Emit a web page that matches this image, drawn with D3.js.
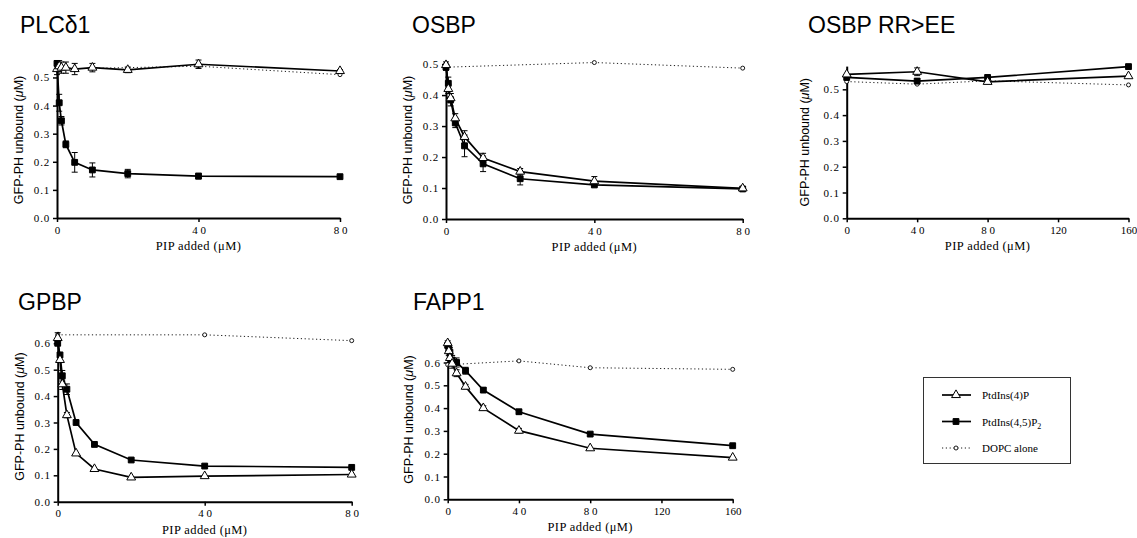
<!DOCTYPE html>
<html>
<head>
<meta charset="utf-8">
<script src="https://cdn.jsdelivr.net/npm/d3@7"></script>
<style>
  body { margin: 0; background: #fff; }
  svg { display: block; }
  .tick text { font-family: "Liberation Serif", "Times New Roman", serif; font-size: 11px; letter-spacing: 0.8px; fill: #000; }
  .xax .tick text { letter-spacing: 0; }
</style>
</head>
<body>
<svg id="chart" width="1137" height="538"></svg>
<script>
// ---- data ----
var titles = ["PLC\u03b41", "OSBP", "OSBP RR>EE", "GPBP", "FAPP1"];
var seriesNames = ["PtdIns(4)P", "PtdIns(4,5)P", "DOPC alone"];

var x80 = [0, 0.625, 1.25, 2.5, 5, 10, 20, 40, 80];
var x160 = [0, 0.625, 1.25, 2.5, 5, 10, 20, 40, 80, 160];
var xDopc80 = [0, 40, 80];
var xSparse160 = [0, 40, 80, 160];

var xTicks80 = [0, 40, 80];
var xTickLabels80 = ["0", "4 0", "8 0"];
var xTicks160 = [0, 40, 80, 120, 160];
var xTickLabels160 = ["0", "4 0", "8 0", "120", "160"];
var yTicks05 = [0, 0.1, 0.2, 0.3, 0.4, 0.5];
var yTicks06 = [0, 0.1, 0.2, 0.3, 0.4, 0.5, 0.6];

// PLCd1
var plcPI4P = [0.53, 0.54, 0.535, 0.535, 0.53, 0.535, 0.527, 0.547, 0.523];
var plcPI4PErr = [0.02, 0.02, 0.02, 0.02, 0.02, 0.015, 0.01, 0.015, 0.005];
var plcPIP2 = [0.55, 0.41, 0.346, 0.262, 0.198, 0.171, 0.158, 0.149, 0.147];
var plcPIP2Err = [0.01, 0.03, 0.015, 0.012, 0.035, 0.025, 0.015, 0.01, 0];
var plcDopc = [0.53, 0.54, 0.51];

// OSBP
var osbpPI4P = [0.497, 0.42, 0.39, 0.325, 0.265, 0.197, 0.153, 0.122, 0.099];
var osbpPI4PErr = [0.01, 0.015, 0.015, 0.015, 0.02, 0.015, 0.01, 0.015, 0];
var osbpPIP2 = [0.49, 0.438, 0.385, 0.31, 0.236, 0.178, 0.13, 0.11, 0.097];
var osbpPIP2Err = [0.01, 0.02, 0.02, 0.015, 0.035, 0.025, 0.02, 0, 0];
var osbpDopc = [0.49, 0.505, 0.487];

// OSBP RR>EE
var rrPI4P = [0.558, 0.568, 0.529, 0.551];
var rrPI4PErr = [0, 0.015, 0, 0];
var rrPIP2 = [0.546, 0.532, 0.546, 0.588];
var rrPIP2Err = [0, 0.01, 0, 0];
var rrDopc = [0.53, 0.52, 0.533, 0.517];

// GPBP
var gpbpPI4P = [0.62, 0.537, 0.445, 0.328, 0.183, 0.124, 0.092, 0.097, 0.103];
var gpbpPI4PErr = [0.02, 0.01, 0.02, 0.01, 0, 0, 0, 0, 0];
var gpbpPIP2 = [0.6, 0.556, 0.477, 0.426, 0.30, 0.217, 0.158, 0.135, 0.13];
var gpbpPIP2Err = [0, 0, 0.02, 0.02, 0, 0, 0, 0, 0];
var gpbpDopc = [0.632, 0.632, 0.61];

// FAPP1
var fappPI4P = [0.685, 0.65, 0.62, 0.595, 0.553, 0.494, 0.4, 0.301, 0.224, 0.183];
var fappPI4PErr = [0.01, 0.02, 0.02, 0.02, 0.015, 0.01, 0.01, 0.01, 0, 0];
var fappPIP2 = [0.675, 0.66, 0.645, 0.611, 0.6, 0.564, 0.479, 0.384, 0.286, 0.235];
var fappPIP2Err = [0.01, 0.015, 0.02, 0.02, 0.02, 0.015, 0.01, 0.01, 0, 0];
var fappDopc = [0.59, 0.607, 0.577, 0.57];

// ---- layout ----
var panels = [
  { title: titles[0], tx: 20, ty: 33, x0: 57, x1: 340, y0: 218, y1: 62, xMax: 80, yMax: 0.555,
    xt: xTicks80, xl: xTickLabels80, yt: yTicks05, lx: 38,
    xs: x80, p: plcPI4P, pe: plcPI4PErr, q: plcPIP2, qe: plcPIP2Err, dx: xDopc80, d: plcDopc },
  { title: titles[1], tx: 412, ty: 33, x0: 446, x1: 742.7, y0: 219, y1: 61, xMax: 80, yMax: 0.51,
    xt: xTicks80, xl: xTickLabels80, yt: yTicks05, lx: 38,
    xs: x80, p: osbpPI4P, pe: osbpPI4PErr, q: osbpPIP2, qe: osbpPIP2Err, dx: xDopc80, d: osbpDopc },
  { title: titles[2], tx: 808, ty: 33, x0: 846.7, x1: 1128.5, y0: 218.3, y1: 66.1, xMax: 160, yMax: 0.59,
    xt: xTicks160, xl: xTickLabels160, yt: yTicks05, lx: 42,
    xs: xSparse160, p: rrPI4P, pe: rrPI4PErr, q: rrPIP2, qe: rrPIP2Err, dx: xSparse160, d: rrDopc },
  { title: titles[3], tx: 18, ty: 310, x0: 57.7, x1: 351.7, y0: 501.7, y1: 331.4, xMax: 80, yMax: 0.645,
    xt: xTicks80, xl: xTickLabels80, yt: yTicks06, lx: 38,
    xs: x80, p: gpbpPI4P, pe: gpbpPI4PErr, q: gpbpPIP2, qe: gpbpPIP2Err, dx: xDopc80, d: gpbpDopc },
  { title: titles[4], tx: 413, ty: 310, x0: 447.7, x1: 732.7, y0: 499.3, y1: 339.7, xMax: 160, yMax: 0.7,
    xt: xTicks160, xl: xTickLabels160, yt: yTicks06, lx: 39,
    xs: x160, p: fappPI4P, pe: fappPI4PErr, q: fappPIP2, qe: fappPIP2Err, dx: xDopc80.concat([160]), d: fappDopc }
];

var svg = d3.select("#chart");
var triangle = d3.symbol().type(d3.symbolTriangle).size(34);
var square = d3.symbol().type(d3.symbolSquare).size(34);

panels.forEach(function(pn) {
  var x = d3.scaleLinear().domain([0, pn.xMax]).range([pn.x0, pn.x1]);
  var y = d3.scaleLinear().domain([0, pn.yMax]).range([pn.y0, pn.y1]);
  var g = svg.append("g");

  g.append("text")
    .attr("x", pn.tx).attr("y", pn.ty)
    .attr("font-family", "Liberation Sans, Arial, sans-serif")
    .attr("font-size", "23px")
    .text(pn.title);

  var yAxis = d3.axisLeft(y).tickValues(pn.yt).tickSize(4).tickSizeOuter(0).tickPadding(3)
    .tickFormat(d3.format(".1f"));
  var ya = g.append("g").attr("transform", "translate(" + pn.x0 + ",0)").call(yAxis);

  var xAxis = d3.axisBottom(x).tickValues(pn.xt).tickSize(4).tickSizeOuter(0).tickPadding(4)
    .tickFormat(function(d, i) { return pn.xl[i]; });
  var xa = g.append("g").attr("class", "xax").attr("transform", "translate(0," + pn.y0 + ")").call(xAxis);

  [ya, xa].forEach(function(a) {
    a.select(".domain").attr("stroke-width", 2).attr("stroke", "#000");
    a.selectAll(".tick line").attr("stroke-width", 1.5).attr("stroke", "#000");
  });

  g.append("text")
    .attr("x", (pn.x0 + pn.x1) / 2).attr("y", pn.y0 + 32)
    .attr("text-anchor", "middle")
    .attr("font-family", "Liberation Serif, Times New Roman, serif")
    .attr("font-size", "12.5px")
    .attr("letter-spacing", "0.4px")
    .text("PIP added (\u03bcM)");

  var yl = g.append("text")
    .attr("transform", "translate(" + (pn.x0 - pn.lx) + "," + ((pn.y0 + pn.y1) / 2) + ") rotate(-90)")
    .attr("text-anchor", "middle")
    .attr("dy", "0.35em")
    .attr("font-family", "Liberation Sans, Arial, sans-serif")
    .attr("font-size", "12.5px");
  yl.append("tspan").text("GFP-PH unbound (");
  yl.append("tspan").attr("font-style", "italic").text("\u03bc");
  yl.append("tspan").text("M)");

  // DOPC dotted
  var dopc = pn.dx.map(function(v, i) { return [v, pn.d[i]]; });
  g.append("path")
    .datum(dopc)
    .attr("fill", "none").attr("stroke", "#000").attr("stroke-width", 0.9)
    .attr("stroke-dasharray", "1.2,2.6")
    .attr("d", d3.line().x(function(d) { return x(d[0]); }).y(function(d) { return y(d[1]); }));
  g.selectAll(".dopc").data(dopc).enter().append("circle")
    .attr("cx", function(d) { return x(d[0]); })
    .attr("cy", function(d) { return y(d[1]); })
    .attr("r", 2).attr("fill", "#fff").attr("stroke", "#000").attr("stroke-width", 0.9);

  // PtdIns series
  [[pn.q, pn.qe, square, "#000"], [pn.p, pn.pe, triangle, "#fff"]].forEach(function(s) {
    var pts = pn.xs.map(function(v, i) { return [v, s[0][i], s[1][i]]; });
    g.append("path")
      .datum(pts)
      .attr("fill", "none").attr("stroke", "#000").attr("stroke-width", 1.7)
      .attr("d", d3.line().x(function(d) { return x(d[0]); }).y(function(d) { return y(d[1]); }));
    var eb = g.append("g").selectAll("g").data(pts.filter(function(d) { return d[2] > 0; })).enter().append("g");
    eb.append("line")
      .attr("x1", function(d) { return x(d[0]); }).attr("x2", function(d) { return x(d[0]); })
      .attr("y1", function(d) { return y(d[1] - d[2]); }).attr("y2", function(d) { return y(d[1] + d[2]); })
      .attr("stroke", "#000").attr("stroke-width", 1);
    [-1, 1].forEach(function(sg) {
      eb.append("line")
        .attr("x1", function(d) { return x(d[0]) - 3; }).attr("x2", function(d) { return x(d[0]) + 3; })
        .attr("y1", function(d) { return y(d[1] + sg * d[2]); }).attr("y2", function(d) { return y(d[1] + sg * d[2]); })
        .attr("stroke", "#000").attr("stroke-width", 1);
    });
    g.append("g").selectAll("path").data(pts).enter().append("path")
      .attr("d", s[2])
      .attr("transform", function(d) { return "translate(" + x(d[0]) + "," + y(d[1]) + ")"; })
      .attr("fill", s[3]).attr("stroke", "#000").attr("stroke-width", 1);
  });
});

// ---- legend ----
var lg = svg.append("g");
lg.append("rect").attr("x", 923.5).attr("y", 377.5).attr("width", 147).attr("height", 86)
  .attr("fill", "none").attr("stroke", "#333").attr("stroke-width", 1);
var legendY = d3.scalePoint().domain(seriesNames).range([395, 448]);
seriesNames.forEach(function(name, i) {
  var yy = legendY(name);
  lg.append("line").attr("x1", 942).attr("x2", 971).attr("y1", yy).attr("y2", yy)
    .attr("stroke", "#000").attr("stroke-width", i < 2 ? 1.7 : 0.9)
    .attr("stroke-dasharray", i < 2 ? null : "1.2,2.6");
  if (i === 0) {
    lg.append("path").attr("d", triangle).attr("transform", "translate(956," + yy + ")")
      .attr("fill", "#fff").attr("stroke", "#000");
  } else if (i === 1) {
    lg.append("path").attr("d", square).attr("transform", "translate(956," + yy + ")")
      .attr("fill", "#000").attr("stroke", "#000");
  } else {
    lg.append("circle").attr("cx", 956).attr("cy", yy).attr("r", 2)
      .attr("fill", "#fff").attr("stroke", "#000").attr("stroke-width", 0.9);
  }
  var t = lg.append("text").attr("x", 982).attr("y", yy + 4)
    .attr("font-family", "Liberation Serif, Times New Roman, serif").attr("font-size", "11px")
    .text(name);
  if (i === 1) t.append("tspan").attr("font-size", "8px").attr("dy", 3).text("2");
});
</script>
</body>
</html>
